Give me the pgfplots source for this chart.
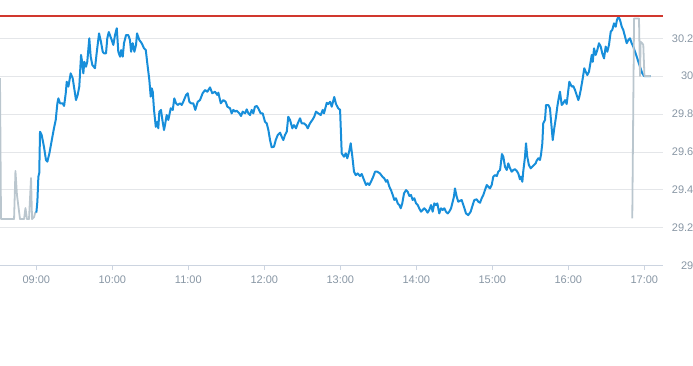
\documentclass[border=0pt]{standalone}
\usepackage{pgfplots}
\pgfplotsset{compat=1.18}
\usepackage{fontspec}
\setmainfont{Liberation Sans}
\definecolor{lblue}{RGB}{23,142,218}
\definecolor{lgrey}{RGB}{186,198,206}
\definecolor{hired}{rgb}{0.82,0.22,0.18}
\definecolor{gridc}{RGB}{228,230,233}
\definecolor{axisc}{RGB}{204,212,224}
\definecolor{labc}{RGB}{136,150,164}
\begin{document}
\begin{tikzpicture}
\useasboundingbox (0,-99.3pt) rectangle (693pt,265.7pt);
\begin{axis}[
  at={(0,0)}, anchor=south west,
  scale only axis, width=663.3pt, height=265.3pt,
  xmin=511.3, xmax=1035, ymin=29, ymax=30.4,
  axis x line*=bottom, axis y line*=right,
  x axis line style={draw=axisc, line width=1pt},
  y axis line style={draw=none},
  xtick={540,600,660,720,780,840,900,960,1020},
  xticklabels={09:00,10:00,11:00,12:00,13:00,14:00,15:00,16:00,17:00},
  ytick={29,29.2,29.4,29.6,29.8,30,30.2},
  yticklabels={29,29.2,29.4,29.6,29.8,30,30.2},
  tick align=outside, major tick length=4pt,
  xtick style={draw=axisc, line width=1pt},
  ytick style={draw=none},
  ymajorgrids, grid style={draw=gridc, line width=1pt},
  /pgf/number format/assume math mode=true,
  tick label style={font=\fontsize{11}{13}\selectfont, text=labc, inner sep=0pt},
  xticklabel style={anchor=north, yshift=-6.3pt},
  yticklabel style={anchor=east, xshift=26.2pt},
  clip=true,
]
% pre-market
\addplot[draw=lgrey, line width=1.8pt, line join=round] coordinates {
(511.3,29.990) (512.1,29.246) (522.4,29.246) (523.5,29.500) (524.7,29.373)
(527.1,29.246) (530.3,29.246) (531.4,29.304) (532.6,29.246) (534.2,29.246)
(535.8,29.463) (536.6,29.246) (538.2,29.257) (539.0,29.278) (540.0,29.283)
};
% regular session
\addplot[draw=lblue, line width=2pt, line join=round] coordinates {
(540.0,29.280) (540.8,29.338) (541.6,29.470) (542.3,29.489) (542.9,29.707)
(544.2,29.690) (546.0,29.628) (547.6,29.558) (548.7,29.549) (550.3,29.593)
(552.2,29.663) (553.9,29.725) (555.3,29.769) (556.6,29.857) (557.4,29.883)
(558.7,29.857) (560.8,29.857) (561.9,29.843) (563.2,29.910) (564.0,29.971)
(565.3,29.945) (567.1,30.015) (568.7,29.989) (569.7,29.945) (571.3,29.874)
(572.6,29.901) (573.9,29.945) (575.3,30.112) (576.3,30.068) (577.1,30.015)
(577.9,30.076) (579.2,30.050) (580.2,30.076) (581.8,30.200) (582.9,30.103)
(584.2,30.059) (586.3,30.042) (587.6,30.121) (589.5,30.226) (591.0,30.182)
(592.4,30.129) (593.4,30.121) (595.0,30.121) (596.0,30.200) (597.2,30.233)
(599.5,30.191) (600.8,30.165) (602.1,30.217) (603.5,30.253) (604.7,30.129)
(606.1,30.103) (606.9,30.138) (608.2,30.103) (609.2,30.174) (610.8,30.217)
(612.6,30.217) (613.9,30.191) (614.8,30.129) (616.1,30.174) (617.4,30.129)
(618.7,30.165) (619.5,30.226) (621.3,30.191) (623.2,30.174) (625.0,30.147)
(626.4,30.138) (627.6,30.068) (629.2,29.980) (630.3,29.892) (631.1,29.936)
(631.9,29.918) (632.9,29.822) (634.3,29.733) (635.5,29.760) (636.3,29.725)
(637.1,29.813) (638.4,29.822) (639.5,29.769) (640.8,29.716) (641.8,29.751)
(642.9,29.795) (644.2,29.769) (646.1,29.831) (647.7,29.822) (648.9,29.883)
(650.3,29.857) (651.6,29.848) (653.4,29.857) (654.8,29.848) (656.0,29.865)
(658.2,29.901) (659.5,29.910) (660.8,29.865) (662.1,29.857) (663.9,29.857)
(665.5,29.822) (667.4,29.865) (669.2,29.874) (671.3,29.910) (673.2,29.927)
(675.0,29.918) (677.1,29.941) (678.9,29.910) (681.0,29.918) (682.9,29.901)
(683.7,29.913) (685.6,29.857) (687.6,29.874) (689.5,29.865) (690.8,29.839)
(692.9,29.831) (694.2,29.804) (695.5,29.822) (696.9,29.813) (698.2,29.818)
(700.3,29.804) (701.6,29.790) (702.9,29.813) (704.8,29.804) (706.1,29.825)
(707.4,29.804) (708.7,29.795) (710.0,29.822) (711.3,29.804) (712.6,29.839)
(714.0,29.843) (715.2,29.831) (717.1,29.804) (718.7,29.804) (720.5,29.760)
(721.9,29.751) (723.2,29.716) (724.5,29.663) (725.8,29.625) (727.6,29.628)
(729.0,29.663) (730.6,29.690) (732.4,29.702) (733.7,29.681) (735.0,29.663)
(736.3,29.690) (737.7,29.707) (738.9,29.786) (740.3,29.769) (742.1,29.725)
(743.4,29.742) (745.0,29.725) (746.4,29.751) (748.2,29.778) (749.5,29.751)
(751.3,29.751) (752.9,29.742) (754.3,29.725) (756.0,29.751) (757.9,29.769)
(759.4,29.786) (760.8,29.813) (762.6,29.804) (764.5,29.795) (766.1,29.822)
(767.1,29.804) (769.3,29.860) (770.5,29.853) (771.9,29.865) (773.2,29.839)
(775.2,29.890) (776.6,29.853) (778.2,29.832) (779.8,29.822) (781.1,29.593)
(782.9,29.575) (784.3,29.593) (785.5,29.567) (786.9,29.601) (788.2,29.646)
(789.5,29.575) (790.8,29.496) (792.2,29.478) (793.7,29.487) (795.5,29.473)
(796.9,29.484) (798.2,29.461) (800.3,29.426) (801.6,29.435) (802.9,29.426)
(804.2,29.443) (806.0,29.470) (807.4,29.496) (809.2,29.496) (811.3,29.487)
(813.2,29.470) (814.7,29.461) (816.1,29.443) (817.1,29.452) (818.7,29.417)
(820.0,29.399) (821.4,29.373) (822.6,29.347) (823.9,29.356) (825.3,29.329)
(826.6,29.320) (827.7,29.303) (828.9,29.329) (830.3,29.382) (831.9,29.399)
(833.2,29.390) (834.5,29.368) (835.8,29.373) (837.1,29.347) (838.4,29.356)
(839.8,29.329) (841.1,29.320) (842.3,29.303) (843.7,29.285) (845.0,29.294)
(846.3,29.303) (847.6,29.294) (848.9,29.280) (850.2,29.294) (851.6,29.320)
(852.9,29.285) (854.2,29.329) (855.5,29.320) (856.6,29.329) (858.1,29.276)
(859.5,29.303) (860.8,29.294) (862.1,29.303) (863.4,29.285) (864.8,29.276)
(866.0,29.285) (867.4,29.303) (868.4,29.329) (869.7,29.364) (870.5,29.408)
(871.9,29.364) (873.1,29.338) (875.8,29.347) (877.6,29.311) (879.2,29.276)
(881.0,29.267) (882.9,29.285) (884.5,29.320) (885.8,29.347) (887.7,29.350)
(888.9,29.338) (890.3,29.332) (891.6,29.356) (892.9,29.373) (894.2,29.399)
(895.6,29.426) (896.8,29.417) (898.2,29.408) (899.5,29.426) (900.8,29.470)
(902.1,29.478) (903.5,29.473) (904.7,29.496) (906.1,29.505) (906.9,29.549)
(907.6,29.589) (908.7,29.575) (910.0,29.522) (911.4,29.505) (912.6,29.540)
(914.0,29.514) (915.3,29.496) (916.6,29.505) (917.9,29.509) (919.2,29.501)
(920.5,29.487) (921.8,29.456) (922.6,29.470) (923.7,29.443) (924.4,29.496)
(925.8,29.575) (926.6,29.646) (927.6,29.575) (928.9,29.531) (930.3,29.514)
(931.5,29.522) (932.9,29.531) (934.2,29.540) (935.0,29.554) (936.3,29.567)
(937.6,29.558) (938.4,29.584) (939.5,29.646) (940.2,29.751) (941.6,29.769)
(942.4,29.848) (944.2,29.848) (945.5,29.831) (946.3,29.769) (947.7,29.663)
(948.9,29.725) (950.3,29.786) (951.3,29.839) (952.4,29.883) (953.4,29.918)
(954.8,29.848) (956.0,29.857) (957.4,29.874) (958.7,29.853) (960.8,29.971)
(962.7,29.945) (963.9,29.948) (965.3,29.927) (966.6,29.901) (967.9,29.874)
(968.7,29.892) (969.8,29.927) (971.4,29.989) (972.6,30.042) (973.7,30.024)
(975.0,30.006) (976.3,30.024) (977.4,30.068) (978.5,30.112) (979.3,30.076)
(980.3,30.147) (981.6,30.112) (982.9,30.138) (984.2,30.174) (985.6,30.156)
(986.8,30.121) (988.2,30.094) (989.5,30.156) (990.8,30.129) (992.1,30.165)
(993.5,30.235) (994.7,30.244) (996.1,30.279) (997.4,30.261) (998.4,30.297)
(999.5,30.314) (1000.8,30.297) (1002.2,30.261) (1003.4,30.244) (1004.8,30.208)
(1006.1,30.174) (1007.4,30.191) (1008.7,30.200) (1010.0,30.174) (1011.3,30.156)
(1014.0,30.103) (1016.6,30.050) (1018.4,30.015) (1019.8,30.001) (1025.0,30.001)
};
% after-hours
\addplot[draw=lgrey, line width=1.8pt, line join=round] coordinates {
(1010.5,29.250) (1011.9,30.305) (1015.8,30.305) (1016.6,30.001) (1017.1,30.182)
(1018.2,30.175) (1019.2,30.165) (1020.1,30.001) (1025.0,30.001)
};
% day high reference line
\addplot[color=hired, line width=1.2pt, mark=none] coordinates {(511.3,30.318) (1035,30.318)};
\end{axis}
\end{tikzpicture}
\end{document}
